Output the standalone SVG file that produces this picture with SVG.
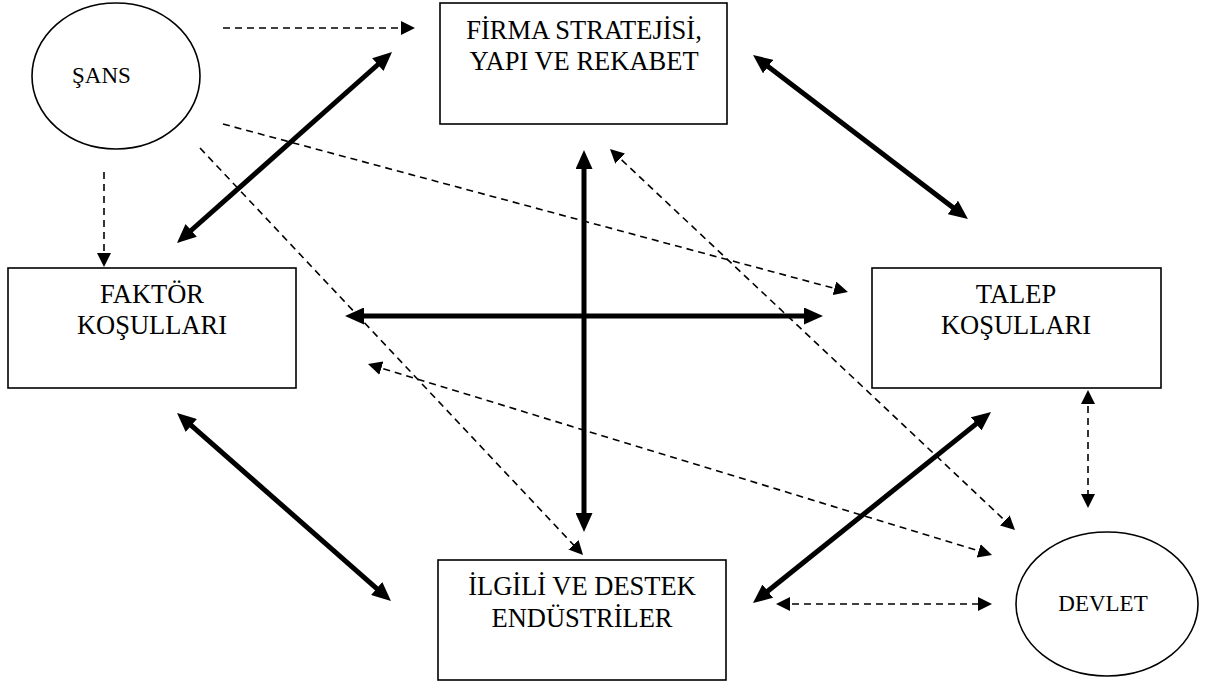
<svg xmlns="http://www.w3.org/2000/svg" width="1207" height="684" viewBox="0 0 1207 684">
<style>
.box{fill:#fff;stroke:#000;stroke-width:1.6}
.lbl{font-family:"Liberation Serif","Times New Roman",serif;font-size:26.5px;fill:#000;text-anchor:middle}
.lbl2{font-family:"Liberation Serif","Times New Roman",serif;font-size:23px;fill:#000}
.thick{stroke:#000;stroke-width:5;fill:none;marker-start:url(#ah);marker-end:url(#ah)}
.dash{stroke:#000;stroke-width:1.6;fill:none;stroke-dasharray:7 5}
.d1{marker-end:url(#dh)}
.d2{marker-start:url(#dh);marker-end:url(#dh)}
</style>
<defs>
<marker id="ah" markerUnits="userSpaceOnUse" markerWidth="19" markerHeight="17" refX="10" refY="8.5" orient="auto-start-reverse"><path d="M0,0 L19,8.5 L0,17 z" fill="#000"/></marker>
<marker id="dh" markerUnits="userSpaceOnUse" markerWidth="14" markerHeight="14" refX="10" refY="7" orient="auto-start-reverse"><path d="M0,0 L14,7 L0,14 z" fill="#000"/></marker>
</defs>
<rect width="1207" height="684" fill="#fff"/>
<g id="sans">
<ellipse class="box" cx="116" cy="76" rx="84" ry="73"/>
<text class="lbl2" x="72" y="83">ŞANS</text>
</g>
<g id="firma">
<rect class="box" x="440" y="3" width="287" height="121"/>
<text class="lbl" x="584" y="39">FİRMA STRATEJİSİ,</text>
<text class="lbl" x="584" y="70">YAPI VE REKABET</text>
</g>
<g id="faktor">
<rect class="box" x="8" y="268" width="288" height="120"/>
<text class="lbl" x="152" y="303">FAKTÖR</text>
<text class="lbl" x="152" y="334">KOŞULLARI</text>
</g>
<g id="talep">
<rect class="box" x="872" y="268" width="289" height="120"/>
<text class="lbl" x="1016" y="303">TALEP</text>
<text class="lbl" x="1016" y="334">KOŞULLARI</text>
</g>
<g id="ilgili">
<rect class="box" x="438" y="560" width="288" height="120"/>
<text class="lbl" x="582" y="595">İLGİLİ VE DESTEK</text>
<text class="lbl" x="582" y="627">ENDÜSTRİLER</text>
</g>
<g id="devlet">
<ellipse class="box" cx="1107" cy="604" rx="91" ry="72"/>
<text class="lbl2" x="1103" y="611" text-anchor="middle">DEVLET</text>
</g>
<g id="connectors">
<line class="thick" x1="183.7" y1="237" x2="385.3" y2="58"/>
<line class="thick" x1="760.2" y1="60.5" x2="960.8" y2="213.5"/>
<line class="thick" x1="354" y1="316" x2="814" y2="316"/>
<line class="thick" x1="584" y1="159" x2="584" y2="523"/>
<line class="thick" x1="183.8" y1="418.9" x2="384.2" y2="595.1"/>
<line class="thick" x1="760" y1="597.4" x2="984" y2="417.6"/>
<line class="dash d1" x1="223" y1="28" x2="411" y2="28"/>
<line class="dash d1" x1="104" y1="172" x2="104" y2="263"/>
<line class="dash d1" x1="223" y1="124" x2="844.1" y2="291"/>
<line class="dash d1" x1="200" y1="148" x2="580.3" y2="552.1"/>
<line class="dash d2" x1="612.9" y1="151.7" x2="1012.1" y2="527.3"/>
<line class="dash d2" x1="371.8" y1="365.2" x2="988.2" y2="553.8"/>
<line class="dash d2" x1="1088" y1="394" x2="1088" y2="504"/>
<line class="dash d2" x1="780" y1="604" x2="988" y2="604"/>
</g>
</svg>
